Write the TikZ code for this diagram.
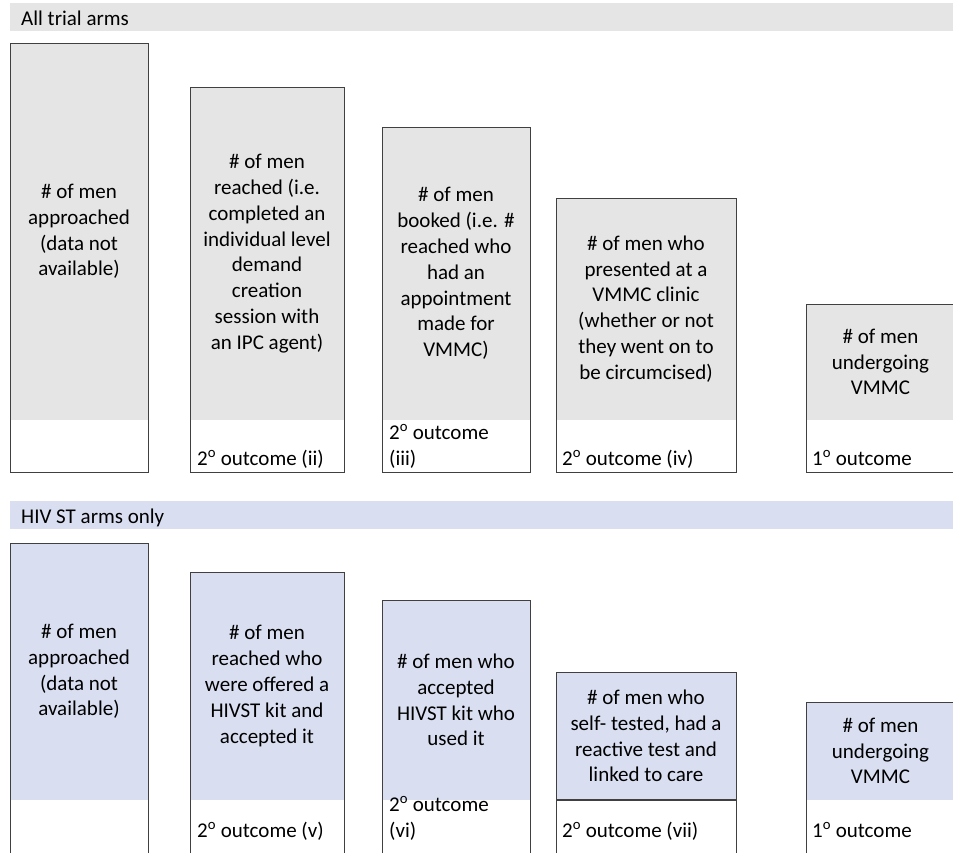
\documentclass[tikz,border=0pt]{standalone}
\usepackage{fontspec}
\setmainfont{Carlito}
\definecolor{grayfill}{HTML}{E5E5E5}
\definecolor{bluefill}{HTML}{D9DFF1}
\definecolor{edgecol}{HTML}{404040}
\tikzset{
  boxline/.style={draw=edgecol, line width=1.3pt, inner sep=0pt, anchor=north west},
  maintext/.style={align=center, font=\fontsize{21}{25.8}\selectfont, inner sep=0pt},
  outtext/.style={align=left, anchor=base west, font=\fontsize{21}{26}\selectfont, inner sep=0pt},
  bannertext/.style={anchor=base west, font=\fontsize{21}{25}\selectfont, inner sep=0pt},
}
% #1 name, #2 x left, #3 y top, #4 x right, #5 y colour end, #6 y bottom, #7 colour, #8 text
\newcommand\stagebox[8]{%
  \fill[#7] (#2,#3) rectangle (#4,#5);
  \node[boxline, minimum width={#4-#2}, minimum height={#6-#3}] (#1) at (#2,#3) {};
  \node[maintext] (#1txt) at ({(#2+#4)/2},{(#3+#5)/2}) {#8};
}
\newcommand\ordo{\textsuperscript{o}}
\begin{document}
\begin{tikzpicture}[x=1pt,y=-1pt]
\useasboundingbox (0,0) rectangle (953,852);
\clip (0,0) rectangle (953,852);
\fill[white] (0,0) rectangle (953,852);

% ---- All trial arms ----
\fill[grayfill] (10,3) rectangle (953,31);
\node[bannertext] (ban1) at (21,25) {All trial arms};

\stagebox{a1}{10}{43}{148}{420}{472}{grayfill}{\# of men\\approached\\(data not\\available)}
\stagebox{a2}{190}{87}{344}{420}{472}{grayfill}{\# of men\\reached (i.e.\\completed an\\individual level\\demand\\creation\\session with\\an IPC agent)}
\stagebox{a3}{382}{127}{530}{420}{472}{grayfill}{\# of men\\booked (i.e. \#\\reached who\\had an\\appointment\\made for\\VMMC)}
\stagebox{a4}{556}{198}{736}{420}{472}{grayfill}{\# of men who\\presented at a\\VMMC clinic\\(whether or not\\they went on to\\be circumcised)}
\stagebox{a5}{806}{304}{955}{420}{472}{grayfill}{\# of men\\undergoing\\VMMC}

\node[outtext] (o2) at (197,465) {2\ordo\ outcome (ii)};
\node[outtext] (o3) at (389,465) {2\ordo\ outcome\\(iii)};
\node[outtext] (o4) at (562,465) {2\ordo\ outcome (iv)};
\node[outtext] (o1) at (812,465) {1\ordo\ outcome};

% ---- HIV ST arms only ----
\fill[bluefill] (10,501) rectangle (953,529);
\node[bannertext] (ban2) at (21,523) {HIV ST arms only};

\stagebox{b1}{10}{543}{148}{800}{856}{bluefill}{\# of men\\approached\\(data not\\available)}
\stagebox{b2}{190}{572}{344}{800}{856}{bluefill}{\# of men\\reached who\\were offered a\\HIVST kit and\\accepted it}
\stagebox{b3}{382}{600}{530}{800}{856}{bluefill}{\# of men who\\accepted\\HIVST kit who\\used it}
\stagebox{b4}{556}{672}{736}{800}{856}{bluefill}{\# of men who\\self- tested, had a\\reactive test and\\linked to care}
\stagebox{b5}{806}{702}{955}{800}{856}{bluefill}{\# of men\\undergoing\\VMMC}
\draw[draw=edgecol, line width=1.3pt] (556,800) -- (736,800);

\node[outtext] (p2) at (197,837) {2\ordo\ outcome (v)};
\node[outtext] (p3) at (389,837) {2\ordo\ outcome\\(vi)};
\node[outtext] (p4) at (562,837) {2\ordo\ outcome (vii)};
\node[outtext] (p1) at (812,837) {1\ordo\ outcome};
\end{tikzpicture}
\end{document}
